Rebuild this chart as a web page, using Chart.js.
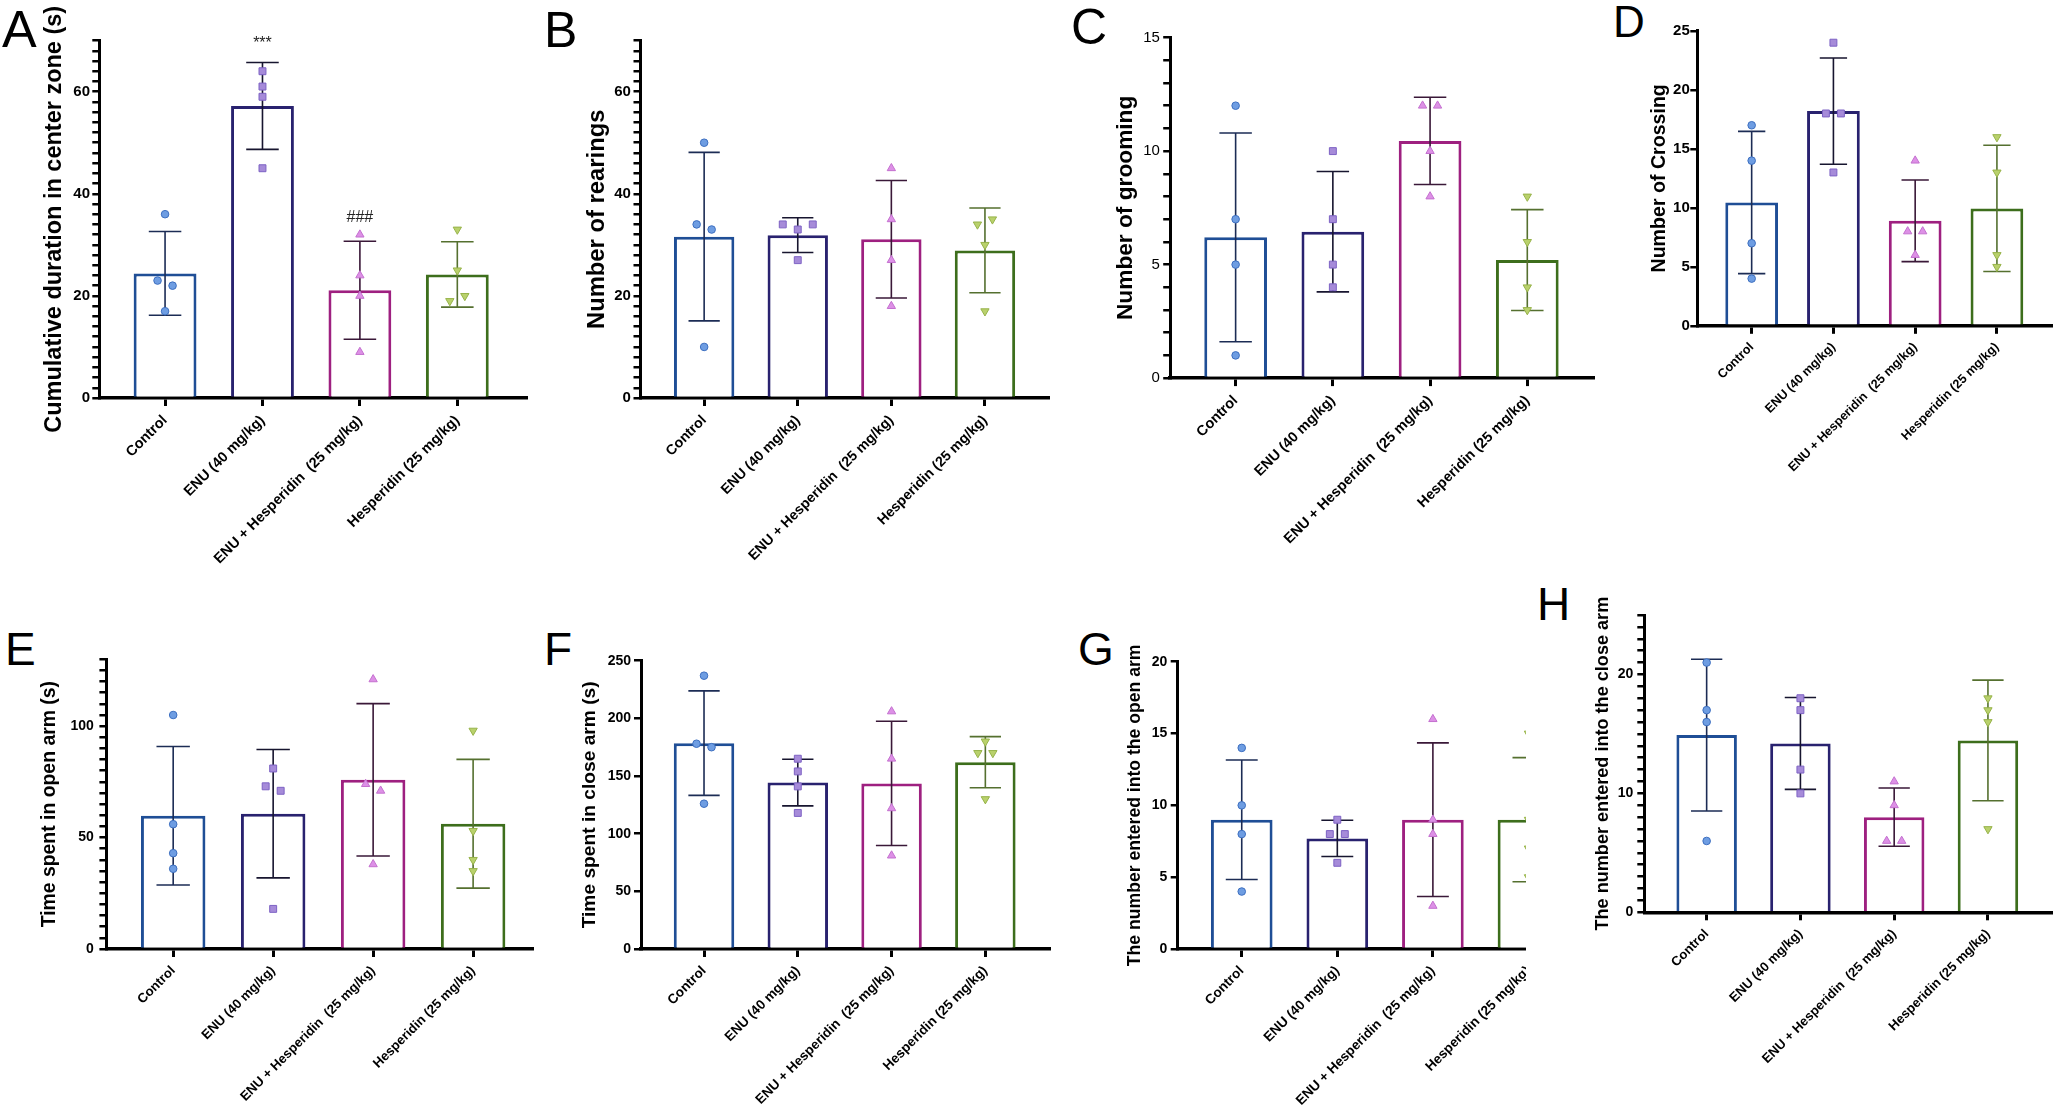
<!DOCTYPE html>
<html>
<head>
<meta charset="utf-8">
<script src="https://cdn.jsdelivr.net/npm/chart.js@4/dist/chart.umd.min.js"></script>
<style>
  html, body { margin: 0; padding: 0; background: #fff; }
  body { width: 2056px; height: 1111px; position: relative; overflow: hidden; font-family: 'Liberation Sans', Arial, sans-serif; }
  .wrap { position: absolute; overflow: hidden; }
  .wrap canvas { position: absolute; left: 0; top: 0; }
  .letter { position: absolute; font-family: 'Liberation Sans', Arial, sans-serif; line-height: 1; color: #000; font-weight: normal; }
</style>
</head>
<body>
<div class="letter" style="left:2px;top:2.6px;font-size:52px;">A</div>
<div class="letter" style="left:544px;top:4.8px;font-size:50px;">B</div>
<div class="letter" style="left:1071px;top:1.5px;font-size:50px;">C</div>
<div class="letter" style="left:1613px;top:0px;font-size:44px;">D</div>
<div class="letter" style="left:5px;top:625.7px;font-size:46px;">E</div>
<div class="letter" style="left:544px;top:626px;font-size:46px;">F</div>
<div class="letter" style="left:1078px;top:625.7px;font-size:46px;">G</div>
<div class="letter" style="left:1537px;top:581px;font-size:46px;">H</div>
<script>
// ---------------- DATA ----------------
const groups = ['Control', 'ENU (40 mg/kg)', 'ENU + Hesperidin  (25 mg/kg)', 'Hesperidin (25 mg/kg)'];

// A: Cumulative duration in center zone (s)
const centerZonePoints = [[36, 23, 22, 17], [64, 61, 59, 45], [32, 24, 20, 9], [33, 25, 19, 20]];
const centerZoneMeans = [24.4, 57.2, 21.1, 24.2];
const centerZoneSD = [8.2, 8.5, 9.6, 6.4];
const centerZoneSigText = ['', '***', '###', ''];
const centerZoneSigY = [null, 70.3, 35.6, null];

// B: Number of rearings
const rearingPoints = [[50, 34, 33, 10], [34, 33, 34, 27], [45, 35, 27, 18], [34, 35, 30, 17]];
const rearingMeans = [31.6, 31.9, 31.1, 28.9];
const rearingSD = [16.5, 3.4, 11.5, 8.3];

// C: Number of grooming
const groomingPoints = [[12, 7, 5, 1], [10, 7, 5, 4], [12, 12, 10, 8], [8, 6, 4, 3]];
const groomingMeans = [6.2, 6.45, 10.45, 5.2];
const groomingSD = [4.6, 2.65, 1.92, 2.22];

// D: Number of Crossing
const crossingPoints = [[17, 14, 7, 4], [24, 18, 18, 13], [14, 8, 8, 6], [16, 13, 6, 5]];
const crossingMeans = [10.45, 18.2, 8.9, 9.95];
const crossingSD = [6.03, 4.5, 3.46, 5.35];

// E: Time spent in open arm (s)
const openArmTimePoints = [[105, 56, 43, 36], [81, 73, 71, 18], [121, 74, 71, 38], [98, 53, 40, 35]];
const openArmTimeMeans = [59.8, 60.7, 75.9, 56.2];
const openArmTimeSD = [31.1, 28.8, 34.2, 28.9];

// F: Time spent in close arm (s)
const closeArmTimePoints = [[237, 178, 175, 126], [165, 154, 141, 118], [206, 165, 122, 81], [180, 170, 170, 130]];
const closeArmTimeMeans = [178.5, 144.3, 143.6, 162];
const closeArmTimeSD = [45.3, 20.2, 53.9, 22.2];

// G: The number entered into the open arm
const openArmEntryPoints = [[14, 10, 8, 4], [9, 8, 8, 6], [16, 9, 8, 3], [15, 9, 7, 5]];
const openArmEntryMeans = [9, 7.7, 9, 9];
const openArmEntrySD = [4.16, 1.26, 5.35, 4.32];

// H: The number entered into the close arm
const closeArmEntryPoints = [[21, 17, 16, 6], [18, 17, 12, 10], [11, 9, 6, 6], [18, 17, 16, 7]];
const closeArmEntryMeans = [14.9, 14.2, 8, 14.45];
const closeArmEntrySD = [6.38, 3.86, 2.45, 5.07];

// ---------------- STYLE ----------------
const FONT = "'Liberation Sans', Arial, sans-serif";
const barEdge = ['#1f4e96', '#29226f', '#9e2080', '#3d6e1c'];
const ptFill = ['#6e9de2', '#a68bd9', '#dd90e6', '#b9d16c'];
const ptEdge = ['#3d6fc0', '#7d62c4', '#c470cf', '#97b34a'];
const errColor = ['#1c2c55', '#17152f', '#3a1838', '#55702f'];
const ptStyle = ['circle', 'rect', 'triangle', 'triangle'];
const ptRot = [0, 0, 0, 180];
const ptRadius = [3.8, 4.9, 4.8, 4.8];
const CAP = 0.167;          // half cap width, in category units
const JITTER_PX = 15;       // spacing of overlapping points
const OVERLAP_PX = 9;

function range(a, b, s) { const r = []; for (let v = a; v <= b + 1e-9; v += s) r.push(+v.toFixed(6)); return r; }

const panels = [
  { key: 'A', title: 'Cumulative duration in center zone (s)', pts: centerZonePoints, means: centerZoneMeans, sd: centerZoneSD,
    sigText: centerZoneSigText, sigY: centerZoneSigY,
    yTicks: range(0, 70, 2), yMax: 70, labelEvery: 20,
    L: 0, axisX: 99.3, top: 40.6, base: 398, xEnd: 526, xMin: -0.675, xMax: 3.705,
    tickSize: 15, tickWeight: 'bold', tickPad: 2.3, titleX: 55, titleSize: 23.5, xFont: 14.5 },
  { key: 'B', title: 'Number of rearings', pts: rearingPoints, means: rearingMeans, sd: rearingSD,
    yTicks: range(0, 70, 2), yMax: 70, labelEvery: 20,
    L: 560, axisX: 640.5, top: 40.6, base: 398, xEnd: 1048.6, xMin: -0.68, xMax: 3.68,
    tickSize: 15, tickWeight: 'bold', tickPad: 2.6, titleX: 597.5, titleSize: 23.8, xFont: 14.2 },
  { key: 'C', title: 'Number of grooming', pts: groomingPoints, means: groomingMeans, sd: groomingSD,
    yTicks: range(0, 15, 1), yMax: 15, labelEvery: 5,
    L: 1090, axisX: 1170.2, top: 37.6, base: 378.1, xEnd: 1593.7, xMin: -0.673, xMax: 3.683,
    tickSize: 15, tickWeight: 'normal', tickPad: 3.3, titleX: 1125.4, titleSize: 22.7, xFont: 14.5 },
  { key: 'D', title: 'Number of Crossing', pts: crossingPoints, means: crossingMeans, sd: crossingSD,
    yTicks: range(0, 25, 5), yMax: 25, labelEvery: 5,
    L: 1630, axisX: 1697.3, top: 30.9, base: 325.8, xEnd: 2051.7, xMin: -0.665, xMax: 3.67,
    tickSize: 15, tickWeight: 'bold', tickPad: 0.5, titleX: 1660, titleSize: 19.6, xFont: 12.6 },
  { key: 'E', title: 'Time spent in open arm (s)', pts: openArmTimePoints, means: openArmTimeMeans, sd: openArmTimeSD,
    yTicks: range(0, 130, 5), yMax: 130, labelEvery: 50,
    L: 0, axisX: 106.4, top: 659.3, base: 949, xEnd: 532.1, xMin: -0.668, xMax: 3.59,
    tickSize: 14, tickWeight: 'bold', tickPad: 5.5, titleX: 50, titleSize: 19.4, xFont: 13.2 },
  { key: 'F', title: 'Time spent in close arm (s)', pts: closeArmTimePoints, means: closeArmTimeMeans, sd: closeArmTimeSD,
    yTicks: range(0, 250, 50), yMax: 250, labelEvery: 50,
    L: 560, axisX: 641, top: 660.7, base: 949, xEnd: 1049.3, xMin: -0.672, xMax: 3.682,
    tickSize: 14, tickWeight: 'bold', tickPad: 3, titleX: 590, titleSize: 19.2, xFont: 13.5 },
  { key: 'G', title: 'The number entered into the open arm', pts: openArmEntryPoints, means: openArmEntryMeans, sd: openArmEntrySD,
    yTicks: range(0, 20, 5), yMax: 20, labelEvery: 5,
    L: 1110, axisX: 1177.7, top: 661.7, base: 949, xEnd: 1592.5, xMin: -0.67, xMax: 3.67, clipRight: 1526,
    tickSize: 14, tickWeight: 'bold', tickPad: 3.4, titleX: 1135, titleSize: 17.6, xFont: 13.6 },
  { key: 'H', title: 'The number entered into the close arm', pts: closeArmEntryPoints, means: closeArmEntryMeans, sd: closeArmEntrySD,
    yTicks: range(0, 25, 1), yMax: 25, labelEvery: 10,
    L: 1580, axisX: 1644.3, top: 615, base: 912.3, xEnd: 2051.7, xMin: -0.665, xMax: 3.68,
    tickSize: 14, tickWeight: 'bold', tickPad: 4, titleX: 1603.3, titleSize: 18.1, xFont: 13.1 }
];

function applyJitter(chart) {
  const xs = chart.scales.x, ys = chart.scales.y;
  const unit = xs.getPixelForValue(1) - xs.getPixelForValue(0);
  chart.data.datasets.forEach(ds => {
    if (ds.type !== 'scatter') return;
    const g = ds.groupIndex;
    const vals = ds.data.map(p => p.y);
    const order = vals.map((v, i) => i).sort((a, b) => vals[b] - vals[a]);
    const clusters = [];
    let cur = [order[0]];
    for (let k = 1; k < order.length; k++) {
      const d = Math.abs(ys.getPixelForValue(vals[order[k]]) - ys.getPixelForValue(vals[order[k - 1]]));
      if (d < OVERLAP_PX) cur.push(order[k]); else { clusters.push(cur); cur = [order[k]]; }
    }
    clusters.push(cur);
    clusters.forEach(c => {
      c.sort((a, b) => a - b);
      c.forEach((idx, k) => { ds.data[idx].x = g + (k - (c.length - 1) / 2) * JITTER_PX / unit; });
    });
  });
  chart.update('none');
}

function makePanel(p) {
  const T = Math.floor(p.top) - 45;
  const W = Math.ceil(p.xEnd + 12 - p.L);
  const Hc = Math.ceil(p.base + 210 - T);
  const xAxisH = Hc - (p.base - T);
  const wrap = document.createElement('div');
  wrap.className = 'wrap';
  const visW = p.clipRight ? (p.clipRight - p.L) : W;
  wrap.style.left = p.L + 'px'; wrap.style.top = T + 'px';
  wrap.style.width = visW + 'px'; wrap.style.height = Hc + 'px';
  const cv = document.createElement('canvas');
  cv.width = W; cv.height = Hc;
  cv.style.width = W + 'px'; cv.style.height = Hc + 'px';
  wrap.appendChild(cv);
  document.body.appendChild(wrap);

  const datasets = [{
    type: 'bar', label: 'mean', order: 1,
    data: p.means.map((m, i) => ({ x: i, y: m })),
    backgroundColor: '#ffffff', borderColor: barEdge, borderWidth: 3,
    borderSkipped: 'start', categoryPercentage: 1, barPercentage: 0.645
  }];
  p.pts.forEach((arr, g) => {
    datasets.push({
      type: 'scatter', label: groups[g], order: 0, groupIndex: g,
      data: arr.map(v => ({ x: g, y: v })),
      pointStyle: ptStyle[g], rotation: ptRot[g], pointRotation: ptRot[g],
      pointRadius: ptRadius[g], pointHoverRadius: ptRadius[g],
      backgroundColor: ptFill[g], borderColor: ptEdge[g], borderWidth: 1, showLine: false
    });
  });

  const plugin = {
    id: 'errbars' + p.key,
    afterDatasetDraw(chart, args) {
      if (args.meta.type !== 'bar') return;
      const ctx = chart.ctx, xs = chart.scales.x, ys = chart.scales.y;
      ctx.save();
      ctx.lineWidth = 1.6;
      ctx.lineCap = 'butt';
      p.means.forEach((m, i) => {
        const cx = xs.getPixelForValue(i);
        const half = xs.getPixelForValue(i + CAP) - cx;
        const yt = ys.getPixelForValue(m + p.sd[i]);
        const yb = ys.getPixelForValue(m - p.sd[i]);
        ctx.strokeStyle = errColor[i];
        ctx.beginPath();
        ctx.moveTo(cx, yb); ctx.lineTo(cx, yt);
        ctx.moveTo(cx - half, yt); ctx.lineTo(cx + half, yt);
        ctx.moveTo(cx - half, yb); ctx.lineTo(cx + half, yb);
        ctx.stroke();
      });
      ctx.restore();
    },
    afterDraw(chart) {
      if (!p.sigText) return;
      const ctx = chart.ctx, xs = chart.scales.x, ys = chart.scales.y;
      ctx.save();
      ctx.font = '16px ' + FONT;
      ctx.fillStyle = '#222';
      ctx.textAlign = 'center';
      ctx.textBaseline = 'alphabetic';
      p.sigText.forEach((t, i) => {
        if (!t) return;
        const m = ctx.measureText(t);
        const cy = ys.getPixelForValue(p.sigY[i]);
        const base = cy + (m.actualBoundingBoxAscent - m.actualBoundingBoxDescent) / 2;
        ctx.fillText(t, xs.getPixelForValue(i), base);
      });
      ctx.restore();
    }
  };

  const chart = new Chart(cv, {
    type: 'bar',
    data: { datasets },
    plugins: [plugin],
    options: {
      responsive: false, animation: false, devicePixelRatio: 1,
      layout: { padding: { top: p.top - T, right: W - (p.xEnd - p.L), left: 0, bottom: 0 } },
      plugins: { legend: { display: false }, tooltip: { enabled: false } },
      scales: {
        x: {
          type: 'linear', min: p.xMin, max: p.xMax, bounds: 'data', offset: false,
          afterBuildTicks: s => { s.ticks = groups.map((g, i) => ({ value: i })); },
          afterFit: s => { s.height = xAxisH; },
          ticks: {
            autoSkip: false, maxRotation: 45, minRotation: 45, padding: 6,
            font: { family: FONT, size: p.xFont, weight: 'bold' }, color: '#000',
            callback: v => groups[v]
          },
          grid: { offset: false, drawOnChartArea: false, drawTicks: true, tickLength: 8, tickWidth: 3, lineWidth: 3, tickColor: '#000', color: '#000' },
          border: { display: true, width: 3.5, color: '#000' }
        },
        y: {
          type: 'linear', min: 0, max: p.yMax, bounds: 'data',
          afterBuildTicks: s => { s.ticks = p.yTicks.map(v => ({ value: v })); },
          afterFit: s => { s.width = p.axisX - p.L; },
          ticks: {
            autoSkip: false, padding: p.tickPad, color: '#000',
            font: { family: FONT, size: p.tickSize, weight: p.tickWeight },
            callback: v => (Math.abs(v % p.labelEvery) < 1e-9 ? String(v) : '')
          },
          grid: { drawOnChartArea: false, drawTicks: true, tickLength: 7, tickWidth: 2.5, lineWidth: 2.5, tickColor: '#000', color: '#000' },
          border: { display: true, width: 3, color: '#000' },
          title: {
            display: true, text: p.title, color: '#000',
            font: { family: FONT, size: p.titleSize, weight: 'bold', lineHeight: 1.2 },
            padding: { top: p.titleX - p.L - p.titleSize * 0.6, bottom: 0 }
          }
        }
      }
    }
  });
  applyJitter(chart);
  return chart;
}

panels.forEach(makePanel);
</script>
</body>
</html>
